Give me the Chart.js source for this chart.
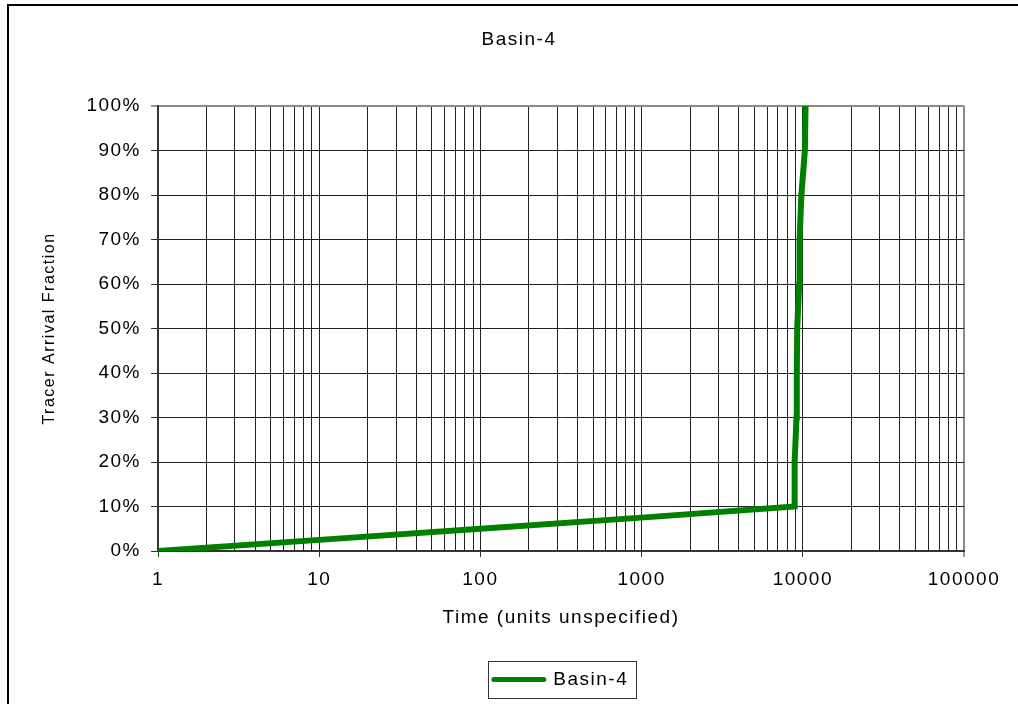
<!DOCTYPE html>
<html>
<head>
<meta charset="utf-8">
<title>Basin-4</title>
<script src="https://cdn.jsdelivr.net/npm/chart.js@4.4.1/dist/chart.umd.min.js"></script>
<style>
  html, body { margin: 0; padding: 0; background: #fff; overflow: hidden; }
  #frame { position: absolute; left: 7px; top: 4px; width: 1020px; height: 698px; border: 2px solid #000; overflow: hidden; background: #fff; }
  canvas { display: block; }
</style>
</head>
<body>
<div id="frame"><canvas id="chart" width="1020" height="698"></canvas></div>
<script>
const seriesName = 'Basin-4';
// arrival curve: time vs cumulative fraction
const timeValues = [1, 10, 100, 1000, 8900, 8900, 9140, 9180, 9230, 9500, 9550, 9800, 10300, 10400];
const arrivalFraction = [0, 0.025, 0.05, 0.075, 0.10, 0.20, 0.30, 0.40, 0.50, 0.60, 0.70, 0.80, 0.90, 1.00];
// log axis: labelled decades plus unlabelled 2..9 lines
const decadeTicks = [1, 10, 100, 1000, 10000, 100000];
const minorSteps = [2, 3, 4, 5, 6, 7, 8, 9];

const gridDark = '#222';
const edgeGray = '#8a8a8a';
const axisDark = '#333';

Chart.defaults.font.family = "'Liberation Sans', Arial, sans-serif";
Chart.defaults.font.size = 19;
Chart.defaults.color = '#000';

// Excel-ish wide text spacing
const textSpacing = {
  id: 'textSpacing',
  beforeLayout(chart) { chart.ctx.letterSpacing = '1.5px'; },
  beforeDraw(chart) { chart.ctx.letterSpacing = '1.5px'; }
};

// thin frame around the legend
const legendBox = {
  id: 'legendBox',
  afterDraw(chart) {
    const lg = chart.legend;
    if (!lg || !lg.legendHitBoxes || !lg.legendHitBoxes.length) return;
    const hb = lg.legendHitBoxes[0];
    const ctx = chart.ctx;
    ctx.save();
    ctx.strokeStyle = axisDark;
    ctx.lineWidth = 1;
    ctx.strokeRect(Math.round(hb.left - 6) + 0.5, Math.round(lg.top) + 0.5,
      Math.round(hb.width + 14), Math.round(lg.bottom - lg.top) - 1);
    ctx.restore();
  }
};

function buildLogTicks() {
  const ticks = [];
  decadeTicks.forEach((d, i) => {
    ticks.push({ value: d, major: true });
    if (i < decadeTicks.length - 1) {
      minorSteps.forEach(m => ticks.push({ value: d * m, major: false }));
    }
  });
  return ticks;
}

const points = timeValues.map((t, i) => ({ x: t, y: arrivalFraction[i] }));

new Chart(document.getElementById('chart'), {
  type: 'line',
  data: {
    datasets: [{
      label: seriesName,
      data: points,
      borderColor: '#008000',
      backgroundColor: '#008000',
      borderWidth: 6,
      borderJoinStyle: 'miter',
      pointRadius: 0,
      tension: 0,
      fill: false
    }]
  },
  options: {
    responsive: false,
    animation: false,
    devicePixelRatio: 1,
    layout: { padding: { left: 0, right: 0, top: 0, bottom: 5 } },
    plugins: {
      title: {
        display: true,
        text: seriesName,
        font: { size: 19, weight: 'normal' },
        padding: { top: 22.6, bottom: 54.6 }
      },
      legend: {
        display: true,
        position: 'bottom',
        fullSize: false,
        labels: {
          usePointStyle: true,
          pointStyleWidth: 50,
          padding: 9,
          font: { size: 19 },
          generateLabels(chart) {
            return Chart.defaults.plugins.legend.labels.generateLabels(chart).map(item => {
              item.pointStyle = 'line';
              item.lineWidth = 5;
              item.lineCap = 'round';
              item.strokeStyle = '#008000';
              item.fillStyle = '#008000';
              return item;
            });
          }
        }
      },
      tooltip: { enabled: false }
    },
    scales: {
      x: {
        type: 'logarithmic',
        min: 1,
        max: 100000,
        afterBuildTicks(scale) { scale.ticks = buildLogTicks(); },
        afterFit(scale) { scale.height = 110; },
        ticks: {
          autoSkip: false,
          maxRotation: 0,
          padding: 11,
          callback(value, index, ticks) {
            return ticks[index].major ? String(value) : '';
          }
        },
        grid: {
          color: ctx => (ctx.tick && ctx.tick.value === 100000 ? edgeGray : gridDark),
          lineWidth: ctx => (ctx.tick && ctx.tick.value === 100000 ? 2 : 1),
          tickLength: 6,
          tickWidth: 1,
          tickColor: ctx => (ctx.tick && ctx.tick.major ? axisDark : 'rgba(0,0,0,0)')
        },
        border: { color: axisDark, width: 2 },
        title: {
          display: true,
          text: 'Time (units unspecified)',
          padding: { top: 0, bottom: 31.6 }
        }
      },
      y: {
        min: 0,
        max: 1,
        afterFit(scale) { scale.width = 149; },
        ticks: {
          stepSize: 0.1,
          padding: 10,
          callback: v => Math.round(v * 100) + '%'
        },
        grid: {
          color: ctx => (ctx.tick && ctx.tick.value === 1 ? edgeGray : gridDark),
          lineWidth: ctx => (ctx.tick && ctx.tick.value === 1 ? 2 : 1),
          tickLength: 7,
          tickWidth: 1,
          tickColor: axisDark
        },
        border: { color: axisDark, width: 2 },
        title: {
          display: true,
          text: 'Tracer Arrival Fraction',
          font: { size: 16 },
          padding: { top: 31.4, bottom: 0 }
        }
      },
      // empty right-hand strip so the plot stops short of the frame edge
      spacer: {
        type: 'linear',
        position: 'right',
        display: true,
        afterFit(scale) { scale.width = 65; },
        ticks: { display: false },
        grid: { display: false, drawOnChartArea: false },
        border: { display: false },
        title: { display: false }
      }
    }
  },
  plugins: [textSpacing, legendBox]
});
</script>
</body>
</html>
